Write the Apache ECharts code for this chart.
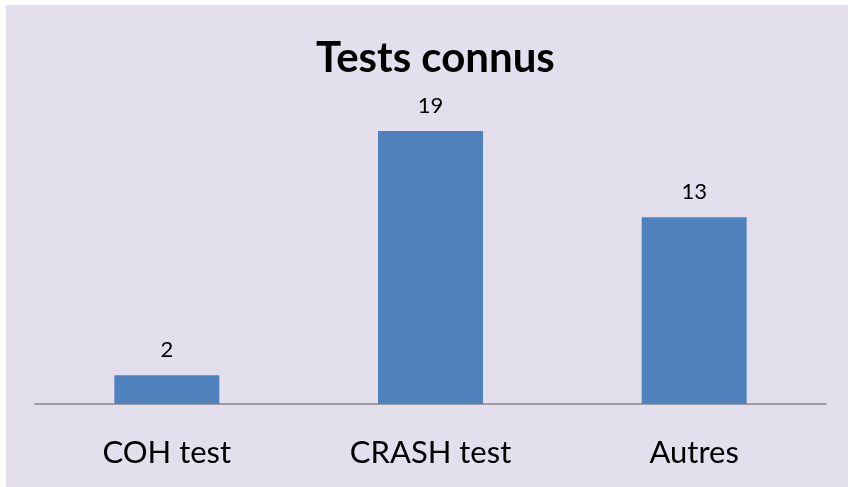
<!DOCTYPE html>
<html>
<head>
<meta charset="utf-8">
<script src="https://cdn.jsdelivr.net/npm/echarts@6/dist/echarts.min.js"></script>
<style>
    html, body { margin: 0; padding: 0; background: #ffffff; }
    #chart { position: absolute; left: 6px; top: 5px; width: 842px; height: 482px; background: #e4dfec; }
</style>
</head>
<body>
<div id="chart"></div>
<script>
// données du graphique
var categories = ['COH test', 'CRASH test', 'Autres'];
var values = [2, 19, 13];

var myChart = echarts.init(document.getElementById('chart'));

var option = {
    backgroundColor: '#e4dfec',
    title: {
        text: 'Tests connus',
        left: 305,
        top: 27,
        textStyle: {
            fontFamily: 'Lato',
            fontWeight: 'bold',
            fontSize: 42,
            color: '#000000'
        }
    },
    grid: {
        left: 29,
        right: 22,
        top: 111.6,
        bottom: 83
    },
    xAxis: {
        type: 'category',
        data: categories,
        axisTick: { show: false },
        axisLine: {
            lineStyle: { color: '#888888', width: 1.5 }
        },
        axisLabel: {
            margin: 33,
            fontFamily: 'Lato',
            fontSize: 31,
            color: '#000000'
        }
    },
    yAxis: {
        type: 'value',
        min: 0,
        max: 20,
        show: false,
        splitLine: { show: false }
    },
    series: [{
        type: 'bar',
        data: values,
        barWidth: 105,
        itemStyle: { color: '#4f81bd' },
        label: {
            show: true,
            position: 'top',
            distance: 14,
            fontFamily: 'Lato',
            fontSize: 22,
            color: '#000000'
        }
    }]
};

myChart.setOption(option);
</script>
</body>
</html>
